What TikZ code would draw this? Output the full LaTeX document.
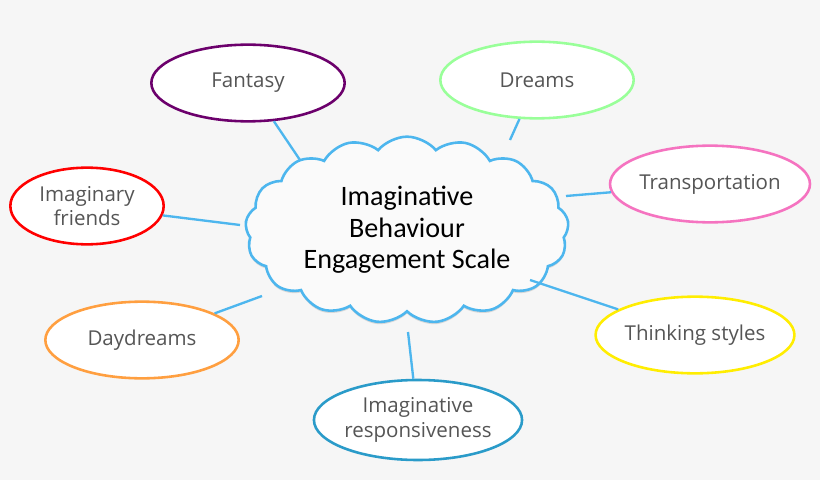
\documentclass[tikz,border=0pt]{standalone}
\usepackage{fontspec}
\setmainfont{Open Sans}
\newfontfamily\cloudfont{Carlito}
\usetikzlibrary{shapes.symbols,shapes.geometric,shadows}
\definecolor{bgc}{HTML}{F6F6F6}
\definecolor{skyline}{HTML}{4DB6EE}
\definecolor{txtc}{HTML}{555555}
\begin{document}
\begin{tikzpicture}[x=0.03cm,y=-0.03cm,
    topic/.style={ellipse,draw=#1,line width=2.2pt,fill=white,
        text=txtc,font=\fontsize{17.5}{21}\selectfont,align=center,inner sep=0pt},
    link/.style={draw=skyline,line width=2pt}]
\fill[bgc] (0,0) rectangle (820,480);
\useasboundingbox (0,0) rectangle (820,480);

% connector ends on the cloud
\coordinate (c1) at (300,160);
\coordinate (c2) at (510,140);
\coordinate (c3) at (240,225);
\coordinate (c4) at (566,196);
\coordinate (c5) at (262,296);
\coordinate (c6) at (530,280);
\coordinate (c7) at (408,332);

% center cloud
\node[cloud,cloud puffs=17,cloud puff arc=100,aspect=1.9,draw=skyline,line width=2.2pt,
    fill=bgc!60!white,minimum width=9.7cm,minimum height=5.6cm,
    drop shadow={shadow xshift=0pt,shadow yshift=-2pt,opacity=0.25},
    font=\cloudfont\fontsize{24}{27}\selectfont,align=center] (scale) at (407,230)
    {Imaginative\\Behaviour\\Engagement Scale};

% the seven facets
\begin{scope}[every node/.append style={minimum height=2.3cm}]
\node[topic=violet!85!black,minimum width=5.8cm] (fantasy) at (248,83) {Fantasy};
\node[topic=green!40,minimum width=5.8cm] (dreams) at (537,80) {Dreams};
\node[topic=red,minimum width=4.6cm] (friends) at (87,206) {Imaginary\\friends};
\node[topic=magenta!55,minimum width=5.8cm] (transport) at (710,184) {Transportation};
\node[topic=orange!75,minimum width=5.8cm] (daydreams) at (142,340) {Daydreams};
\node[topic=yellow!95!orange,minimum width=5.8cm] (thinking) at (695,335) {Thinking styles};
\node[topic=cyan!60!teal,minimum width=5.8cm,minimum height=2.4cm] (respons) at (418,420) {Imaginative\\responsiveness};
\end{scope}

\draw[link] (fantasy) -- (c1);
\draw[link] (dreams) -- (c2);
\draw[link] (friends) -- (c3);
\draw[link] (transport) -- (c4);
\draw[link] (daydreams) -- (c5);
\draw[link] (thinking) -- (c6);
\draw[link] (respons) -- (c7);
\end{tikzpicture}
\end{document}
